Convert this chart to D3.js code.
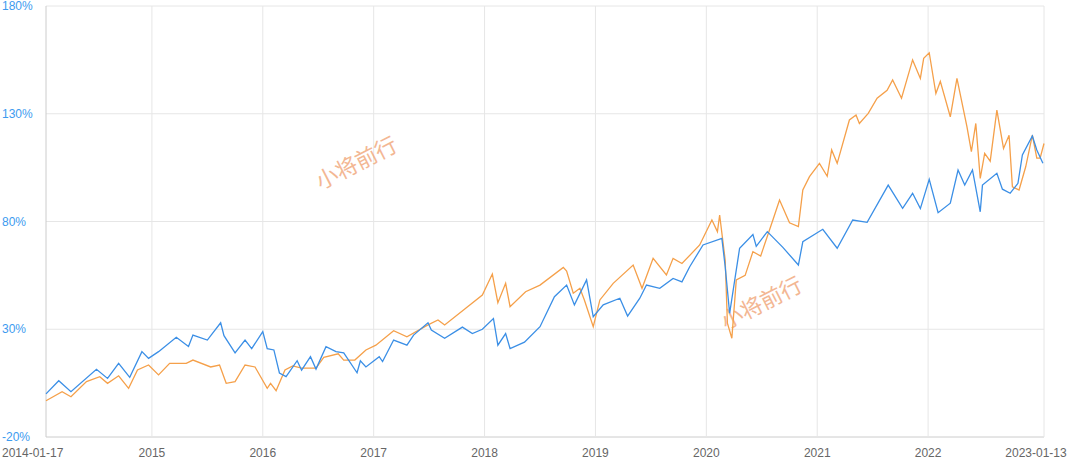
<!DOCTYPE html>
<html><head><meta charset="utf-8">
<script src="https://cdn.jsdelivr.net/npm/d3@7"></script>
<style>body{margin:0;background:#fff}svg{display:block}</style>
</head><body>
<svg id="c" width="1080" height="468"></svg>
<script>
const blueT=[2014.045,2014.16,2014.27,2014.50,2014.60,2014.70,2014.80,2014.91,2014.97,2015.06,2015.22,2015.33,2015.37,2015.50,2015.62,2015.65,2015.75,2015.84,2015.90,2016.00,2016.04,2016.10,2016.15,2016.21,2016.31,2016.35,2016.43,2016.48,2016.57,2016.66,2016.73,2016.85,2016.88,2016.93,2017.05,2017.08,2017.18,2017.30,2017.36,2017.49,2017.52,2017.64,2017.80,2017.89,2017.98,2018.08,2018.12,2018.19,2018.23,2018.36,2018.50,2018.63,2018.74,2018.81,2018.92,2018.98,2019.07,2019.22,2019.29,2019.40,2019.46,2019.58,2019.70,2019.78,2019.85,2019.97,2020.14,2020.17,2020.21,2020.30,2020.42,2020.45,2020.55,2020.69,2020.83,2020.87,2021.05,2021.18,2021.32,2021.45,2021.64,2021.77,2021.86,2021.93,2022.01,2022.09,2022.20,2022.27,2022.33,2022.40,2022.47,2022.49,2022.62,2022.67,2022.74,2022.81,2022.85,2022.94,2022.98,2023.035];
const blueV=[0,6.1,1.0,11.4,7.2,14.2,7.7,19.6,16.5,19.6,26.3,22,27.3,25,33,27,19,25,21,28.9,21,20.4,9.7,8,15.4,11,17.3,11.5,21.9,19.6,19,9.8,15.4,12.5,17.3,15,25,22.6,27.3,33,29.6,25.8,31,28,30,35,22.6,28,21,24,31.2,45.1,50.5,41.3,52.9,35.8,41.3,44.4,36.1,44.4,50.5,49,53.6,52,59,69.1,72.2,59,37.4,67.6,74,68.5,75.3,68,59.8,70.6,76.4,67.6,80.7,79.6,96.9,86.1,93.1,86,99.6,84.1,88.5,103.9,96.9,103.9,84.5,96.9,102.4,95,93.1,97.7,110.9,119.7,113.2,107];
const orangeT=[2014.045,2014.19,2014.27,2014.41,2014.53,2014.60,2014.70,2014.79,2014.87,2014.97,2015.06,2015.16,2015.31,2015.37,2015.53,2015.61,2015.67,2015.75,2015.84,2015.93,2016.04,2016.07,2016.12,2016.20,2016.27,2016.35,2016.48,2016.55,2016.68,2016.73,2016.83,2016.93,2017.02,2017.18,2017.30,2017.49,2017.58,2017.64,2017.83,2017.98,2018.07,2018.12,2018.19,2018.23,2018.37,2018.50,2018.71,2018.74,2018.80,2018.86,2018.90,2018.98,2019.04,2019.16,2019.34,2019.42,2019.52,2019.64,2019.70,2019.78,2019.94,2020.05,2020.10,2020.12,2020.17,2020.19,2020.23,2020.27,2020.35,2020.42,2020.49,2020.60,2020.66,2020.75,2020.83,2020.87,2020.93,2021.02,2021.09,2021.13,2021.18,2021.29,2021.35,2021.38,2021.46,2021.54,2021.63,2021.68,2021.76,2021.86,2021.93,2021.96,2022.01,2022.07,2022.11,2022.20,2022.26,2022.35,2022.39,2022.43,2022.47,2022.51,2022.56,2022.62,2022.68,2022.73,2022.76,2022.82,2022.88,2022.94,2022.98,2023.01,2023.045];
const orangeV=[-3.2,1,-1.3,5.7,8,4.9,8.4,2.6,11.1,13.4,8.8,14.2,14.2,15.7,12.5,13.4,4.9,5.7,13.4,12.5,2.6,4.9,1.5,11.1,13,12,12,17,18.6,15.7,15.7,20.4,22.6,29.3,26.5,32,34.3,32,39.7,45.9,55.6,42.3,51.3,40.5,47.4,50.5,58.7,57,46.7,49,43.6,31.2,43.6,51.3,59.8,49,62.9,55.2,62.9,60.5,69.1,80.7,75.3,83,62.1,32.8,25.8,52.9,55,66,64,80.7,90,79.4,77.6,94.6,100.8,107,101,113.2,107,127.1,129.4,125.5,130.2,137.2,140.9,145.7,137.2,155,146.4,155.7,158.3,139.4,145,128.6,146.4,124,112.4,125.5,100,111.6,108,131.7,113.9,120,96.1,94.6,105.4,120.1,109.4,109.4,116.2];
const yTicks=[-20,30,80,130,180];
const xTicks=[2015,2016,2017,2018,2019,2020,2021,2022];
const xStartLabel="2014-01-17", xEndLabel="2023-01-13";
const watermark="小将前行";

const svg=d3.select("#c");
const x=d3.scaleLinear().domain([2014.045,2023.045]).range([46,1044]);
const y=d3.scaleLinear().domain([-20,180]).range([437,6]);
const g=svg.append("g");
g.selectAll(".hg").data(yTicks).join("line").attr("x1",46).attr("x2",1044)
 .attr("y1",d=>y(d)).attr("y2",d=>y(d)).attr("stroke",d=>d===-20?"#ccc":"#e6e6e6");
g.selectAll(".vg").data([2014.045,...xTicks,2023.045]).join("line").attr("y1",6).attr("y2",437)
 .attr("x1",d=>x(d)).attr("x2",d=>x(d)).attr("stroke",d=>d===2014.045?"#ccc":"#e6e6e6");
g.selectAll(".yl").data(yTicks).join("text").attr("x",2).attr("y",d=>y(d)).attr("dy","0.35em")
 .attr("fill","#3d9bef").attr("font-family","Arial, Liberation Sans, sans-serif").attr("font-size",12).text(d=>d+"%");
const xl=[...xTicks.map(d=>({v:d,t:String(d),a:"middle"})),{v:2014.045,t:xStartLabel,a:"start",dx:-44},{v:2023.045,t:xEndLabel,a:"middle",dx:-8}];
g.selectAll(".xl").data(xl).join("text").attr("x",d=>x(d.v)+(d.dx||0)).attr("y",457)
 .attr("text-anchor",d=>d.a).attr("fill","#666").attr("font-family","Arial, Liberation Sans, sans-serif").attr("font-size",12).text(d=>d.t);
// watermarks
[[360,170],[765,310]].forEach(p=>{
 svg.append("text").attr("transform",`translate(${p[0]},${p[1]}) rotate(-27)`).attr("text-anchor","middle")
 .attr("font-family","Noto Sans CJK SC").attr("font-size",22).attr("fill","#f0a070").attr("opacity",0.75).text(watermark);
});
const line=d3.line().x(d=>x(d[0])).y(d=>y(d[1]));
svg.append("path").datum(d3.zip(orangeT,orangeV)).attr("d",line).attr("fill","none").attr("stroke","#f5a04a").attr("stroke-width",1.3);
svg.append("path").datum(d3.zip(blueT,blueV)).attr("d",line).attr("fill","none").attr("stroke","#3b8fe6").attr("stroke-width",1.3);
</script></body></html>
